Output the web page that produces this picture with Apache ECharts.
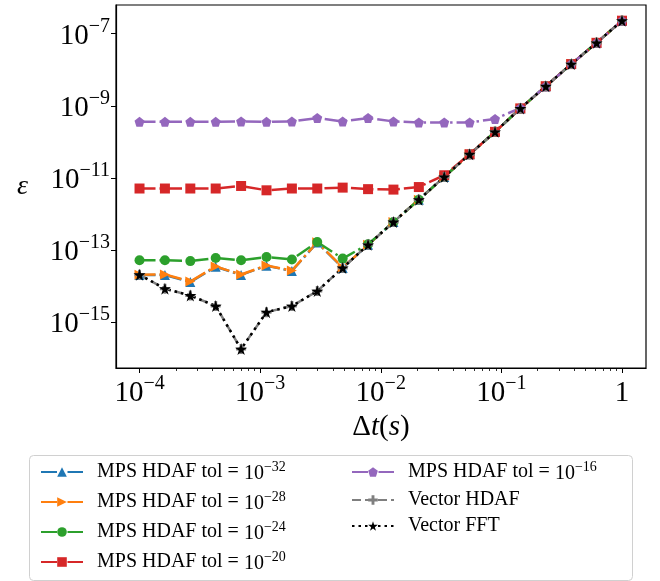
<!DOCTYPE html>
<html><head><meta charset="utf-8">
<script src="https://cdn.jsdelivr.net/npm/echarts@6/dist/echarts.min.js"></script>
<style>html,body{margin:0;padding:0;background:#fff}#c{width:660px;height:581px}</style>
</head><body><div id="c"></div>
<script>
// ---- data ----
const dt = [1.000e-4, 1.624e-4, 2.637e-4, 4.281e-4, 6.952e-4, 1.129e-3, 1.833e-3, 2.976e-3, 4.833e-3, 7.848e-3,
            1.274e-2, 2.069e-2, 3.360e-2, 5.456e-2, 8.859e-2, 1.438e-1, 2.336e-1, 3.793e-1, 6.158e-1, 1.000];
const tol32 = [2.05e-14, 2.05e-14, 1.30e-14, 3.45e-14, 2.05e-14, 3.70e-14, 2.65e-14, 1.62e-13, 3.2e-14, 1.40e-13,
               6.0e-13, 2.5e-12, 1.07e-11, 4.55e-11, 1.9e-10, 8.5e-10, 3.5e-9, 1.44e-8, 5.6e-8, 2.3e-7];
const tol28 = [2.07e-14, 2.10e-14, 1.35e-14, 3.50e-14, 2.10e-14, 3.76e-14, 2.70e-14, 1.64e-13, 3.3e-14, 1.40e-13,
               6.0e-13, 2.5e-12, 1.07e-11, 4.55e-11, 1.9e-10, 8.5e-10, 3.5e-9, 1.44e-8, 5.6e-8, 2.3e-7];
const tol24 = [5.2e-14, 5.2e-14, 4.95e-14, 6.0e-14, 5.2e-14, 6.4e-14, 5.5e-14, 1.67e-13, 5.8e-14, 1.45e-13,
               6.0e-13, 2.5e-12, 1.07e-11, 4.55e-11, 1.9e-10, 8.5e-10, 3.5e-9, 1.44e-8, 5.6e-8, 2.3e-7];
const tol20 = [5.1e-12, 5.1e-12, 5.1e-12, 5.1e-12, 6.0e-12, 4.55e-12, 5.1e-12, 5.1e-12, 5.4e-12, 4.9e-12,
               4.76e-12, 5.6e-12, 1.19e-11, 4.55e-11, 1.9e-10, 8.5e-10, 3.5e-9, 1.44e-8, 5.6e-8, 2.3e-7];
const tol16 = [3.6e-10, 3.6e-10, 3.6e-10, 3.6e-10, 3.7e-10, 3.6e-10, 3.7e-10, 4.6e-10, 3.7e-10, 4.6e-10,
               3.7e-10, 3.46e-10, 3.46e-10, 3.46e-10, 4.35e-10, 8.7e-10, 3.5e-9, 1.44e-8, 5.6e-8, 2.3e-7];
const vecHdaf = [2.07e-14, 8.5e-15, 5.5e-15, 2.8e-15, 1.8e-16, 1.9e-15, 2.8e-15, 7.3e-15, 3.2e-14, 1.40e-13,
                 6.0e-13, 2.5e-12, 1.07e-11, 4.55e-11, 1.9e-10, 8.5e-10, 3.5e-9, 1.44e-8, 5.6e-8, 2.3e-7];
const vecFft = [2.07e-14, 8.5e-15, 5.5e-15, 2.8e-15, 1.8e-16, 1.9e-15, 2.8e-15, 7.3e-15, 3.2e-14, 1.40e-13,
                6.0e-13, 2.5e-12, 1.07e-11, 4.55e-11, 1.9e-10, 8.5e-10, 3.5e-9, 1.44e-8, 5.6e-8, 2.3e-7];
const seriesNames = ['tol32', 'tol28', 'tol24', 'tol20', 'tol16', 'vecHdaf', 'vecFft'];
const legendLabels = {
  tol32: 'MPS HDAF tol = {b|10}{s|−32}', tol28: 'MPS HDAF tol = {b|10}{s|−28}',
  tol24: 'MPS HDAF tol = {b|10}{s|−24}', tol20: 'MPS HDAF tol = {b|10}{s|−20}',
  tol16: 'MPS HDAF tol = {b|10}{s|−16}', vecHdaf: 'Vector HDAF', vecFft: 'Vector FFT'
};
const xMajor = [1e-4, 1e-3, 1e-2, 1e-1, 1];
const xMinor = [2e-4,3e-4,4e-4,5e-4,6e-4,7e-4,8e-4,9e-4, 2e-3,3e-3,4e-3,5e-3,6e-3,7e-3,8e-3,9e-3,
                2e-2,3e-2,4e-2,5e-2,6e-2,7e-2,8e-2,9e-2, 2e-1,3e-1,4e-1,5e-1,6e-1,7e-1,8e-1,9e-1];
const yMajor = [1e-15, 1e-13, 1e-11, 1e-9, 1e-7];

// ---- rendering ----
const FONT = '"Liberation Serif", "DejaVu Serif", serif';
const xMin = Math.pow(10, -4.195), xMax = Math.pow(10, 0.199);
const yMin = Math.pow(10, -16.27), yMax = Math.pow(10, -6.203);
const PENT = 'path://M0,-10L9.51,-3.09L5.88,8.09L-5.88,8.09L-9.51,-3.09Z';
const STAR = 'path://M0,-10L2.245,-3.09L9.51,-3.09L3.633,1.18L5.878,8.09L0,3.82L-5.878,8.09L-3.633,1.18L-9.51,-3.09L-2.245,-3.09Z';
const PLUS = 'path://M-3,-10H3V-3H10V3H3V10H-3V3H-10V-3H-3Z';
const DASHDOT = [16, 4, 2.5, 4];
const styles = {
  tol32: {color: '#1f77b4', symbol: 'triangle', size: 10, rot: 0, type: DASHDOT},
  tol28: {color: '#ff7f0e', symbol: 'triangle', size: 10, rot: -90, type: DASHDOT},
  tol24: {color: '#2ca02c', symbol: 'circle', size: 10, rot: 0, type: DASHDOT},
  tol20: {color: '#d62728', symbol: 'rect', size: 10, rot: 0, type: DASHDOT},
  tol16: {color: '#9467bd', symbol: PENT, size: 10, rot: 0, type: DASHDOT},
  vecHdaf: {color: '#7f7f7f', symbol: PLUS, size: 10, rot: 0, type: [9, 4]},
  vecFft: {color: '#000000', symbol: STAR, size: 12, rot: 0, type: [2.5, 4]}
};
const dataMap = {tol32, tol28, tol24, tol20, tol16, vecHdaf, vecFft};

function pow10Label(v) {
  const e = Math.round(Math.log10(v));
  if (e === 0) return '{b|1}';
  return '{b|10}{s|' + (e < 0 ? '−' : '') + Math.abs(e) + '}';
}
const tickRich = {
  b: {fontFamily: FONT, fontSize: 29, color: '#000', verticalAlign: 'bottom', lineHeight: 34},
  s: {fontFamily: FONT, fontSize: 20, color: '#000', verticalAlign: 'top', lineHeight: 20}
};
const legRich = {
  b: {fontFamily: FONT, fontSize: 20, color: '#000', verticalAlign: 'bottom', lineHeight: 24},
  s: {fontFamily: FONT, fontSize: 14, color: '#000', verticalAlign: 'top', lineHeight: 14}
};

const series = seriesNames.map(n => {
  const st = styles[n];
  return {
    name: n, type: 'line', xAxisIndex: 0, yAxisIndex: 0,
    data: dt.map((x, i) => [x, dataMap[n][i]]),
    symbol: st.symbol, symbolSize: st.size, symbolRotate: st.rot, showSymbol: true,
    itemStyle: {color: st.color},
    lineStyle: {color: st.color, width: 2.5, type: st.type},
    z: 2, animation: false
  };
});

const legendCommon = {
  orient: 'vertical', itemWidth: 42, itemHeight: 12, itemGap: 6,
  formatter: n => legendLabels[n],
  textStyle: {fontFamily: FONT, fontSize: 20, color: '#000', rich: legRich, padding: [0, 0, 0, 9]},
  selectedMode: false
};

const chart = echarts.init(document.getElementById('c'), null, {renderer: 'canvas'});
chart.setOption({
  animation: false,
  backgroundColor: '#fff',
  grid: {left: 116, right: 14, top: 5, bottom: 213, show: true, borderColor: '#000', borderWidth: 1.2, backgroundColor: 'transparent'},
  xAxis: [{
    type: 'log', min: xMin, max: xMax, position: 'bottom',
    axisLine: {show: true, lineStyle: {color: '#000', width: 1.2}},
    axisTick: {show: true, customValues: xMajor, length: 5, inside: false, lineStyle: {color: '#000', width: 1}},
    axisLabel: {customValues: xMajor, formatter: pow10Label, rich: tickRich, margin: 6, color: '#000'},
    splitLine: {show: false},
    name: '{n|Δ}{i|t}{n|(}{i|s}{n|)}', nameLocation: 'middle', nameGap: 41,
    nameTextStyle: {rich: {
      n: {fontFamily: FONT, fontSize: 29, color: '#000'},
      i: {fontFamily: FONT, fontSize: 29, fontStyle: 'italic', color: '#000'}
    }}
  }, {
    type: 'log', min: xMin, max: xMax, position: 'bottom', offset: 0,
    axisLine: {show: false},
    axisTick: {show: true, customValues: xMinor, length: 3, lineStyle: {color: '#000', width: 0.8}},
    axisLabel: {show: false}, splitLine: {show: false}
  }],
  yAxis: [{
    type: 'log', min: yMin, max: yMax, position: 'left',
    axisLine: {show: true, lineStyle: {color: '#000', width: 1.2}},
    axisTick: {show: true, customValues: yMajor, length: 5, lineStyle: {color: '#000', width: 1}},
    axisLabel: {customValues: yMajor, formatter: pow10Label, rich: tickRich, margin: 6, color: '#000'},
    splitLine: {show: false},
    name: 'ε', nameLocation: 'middle', nameGap: 88, nameRotate: 0,
    nameTextStyle: {fontFamily: FONT, fontSize: 28, fontStyle: 'italic', color: '#000'}
  }],
  legend: [
    Object.assign({data: ['tol32', 'tol28', 'tol24', 'tol20'], left: 35, top: 455}, legendCommon),
    Object.assign({data: ['tol16', 'vecHdaf', 'vecFft'], left: 346, top: 455}, legendCommon)
  ],
  graphic: [{
    type: 'rect', left: 27, top: 453, shape: {width: 603, height: 125, r: 4},
    style: {fill: 'none', stroke: '#d0d0d0', lineWidth: 1}, z: -1
  }],
  series: series
});
</script></body></html>
